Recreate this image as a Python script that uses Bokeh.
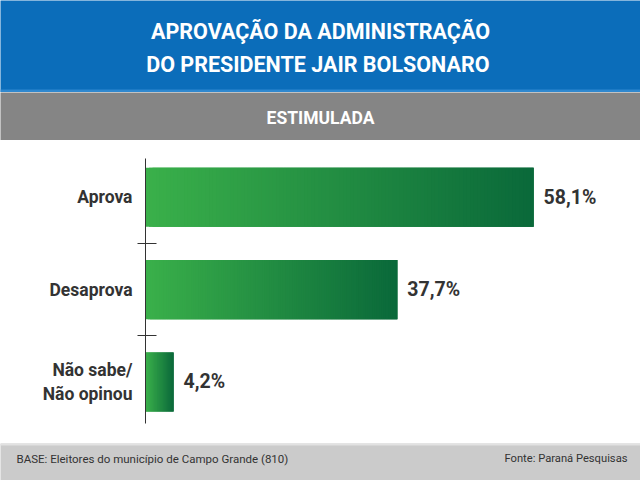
from bokeh.plotting import figure
from bokeh.layouts import column
from bokeh.models import FixedTicker, Range1d, ColumnDataSource
from bokeh.core.properties import value
from bokeh.embed import file_html
from bokeh.resources import INLINE

# ---- data ----
title_lines = ["APROVAÇÃO DA ADMINISTRAÇÃO", "DO  PRESIDENTE JAIR BOLSONARO"]
subtitle = "ESTIMULADA"
categories = ["Aprova", "Desaprova", "Não sabe/\nNão opinou"]
values = [58.1, 37.7, 4.2]
value_labels = ["58,1%", "37,7%", "4,2%"]
base_text = "BASE: Eleitores do município de Campo Grande (810)"
source_text = "Fonte: Paraná Pesquisas"

FONT = "Roboto"
W = 640


def band(height, color):
    fig = figure(width=W, height=height, x_range=Range1d(0, W), y_range=Range1d(0, height),
                 output_backend="svg", toolbar_location=None, min_border=0,
                 x_axis_location=None, y_axis_location=None,
                 background_fill_color=color, border_fill_color=color,
                 outline_line_color=None, frame_align=False)
    fig.grid.visible = False
    return fig


# ---- header (blue) ----
h = band(92, "#0b6dba")
h.quad(left=[0], right=[W], bottom=[0], top=[3], fill_color="#2f88cf", line_color=None)
h.text(x=[W / 2, W / 2], y=[61, 28], text=title_lines,
       text_font=value(FONT), text_font_style="bold", text_font_size="21.5px",
       text_color="white", text_align="center", text_baseline="middle")

# ---- sub header (gray) ----
g = band(48, "#858585")
g.text(x=[W / 2], y=[23], text=[subtitle],
       text_font=value(FONT), text_font_style="bold", text_font_size="17.5px",
       text_color="white", text_align="center", text_baseline="middle")

# ---- main chart ----
n = len(categories)
ypos = [n - i for i in range(n)]
minor = [(a + b) / 2 for a, b in zip(ypos[:-1], ypos[1:])]

p = figure(width=W, height=303, x_range=Range1d(0, 74.1), y_range=Range1d(0.55, 3.42),
           output_backend="svg", toolbar_location=None,
           min_border_left=145, min_border_right=0, min_border_top=18, min_border_bottom=20,
           x_axis_location=None, outline_line_color=None, frame_align=False)
p.grid.visible = False

c0 = (58, 176, 74)
c1 = (10, 105, 58)
N = 110
L, R, T, B, C = [], [], [], [], []
for v, y in zip(values, ypos):
    for k in range(N):
        t = k / (N - 1)
        col = "#%02x%02x%02x" % tuple(int(round(a + (b - a) * t)) for a, b in zip(c0, c1))
        L.append(v * k / N)
        R.append(v * min(k + 3, N) / N)
        T.append(y + 0.32)
        B.append(y - 0.32)
        C.append(col)
src = ColumnDataSource(dict(left=L, right=R, top=T, bottom=B, color=C))
p.quad(left="left", right="right", top="top", bottom="bottom", source=src,
       fill_color="color", line_color=None)

p.text(x=values, y=ypos, text=value_labels, x_offset=10,
       text_font=value(FONT), text_font_style="bold", text_font_size="19.5px",
       text_color="#333333", text_baseline="middle", text_align="left")

ax = p.yaxis[0]
ax.ticker = FixedTicker(ticks=ypos, minor_ticks=minor)
ax.major_label_overrides = {y: c for y, c in zip(ypos, categories)}
ax.major_tick_line_color = None
ax.major_tick_out = 0
ax.major_tick_in = 0
ax.minor_tick_line_color = "#333333"
ax.minor_tick_in = 11
ax.minor_tick_out = 8
ax.axis_line_color = "#333333"
ax.major_label_standoff = 5
ax.major_label_text_font = FONT
ax.major_label_text_font_style = "bold"
ax.major_label_text_font_size = "17.5px"
ax.major_label_text_color = "#333333"

# ---- footer ----
f = band(37, "#cbcbcb")
f.quad(left=[0], right=[W], bottom=[35], top=[37], fill_color="#e2e2e2", line_color=None)
f.text(x=[16], y=[22], text=[base_text], text_font=value(FONT), text_font_size="11.5px",
       text_color="#333333", text_align="left", text_baseline="middle")
f.text(x=[627], y=[22], text=[source_text], text_font=value(FONT), text_font_size="11.2px",
       text_color="#333333", text_align="right", text_baseline="middle")

layout = column(h, g, p, f, spacing=0)
open("out.html", "w").write(file_html(layout, INLINE))
